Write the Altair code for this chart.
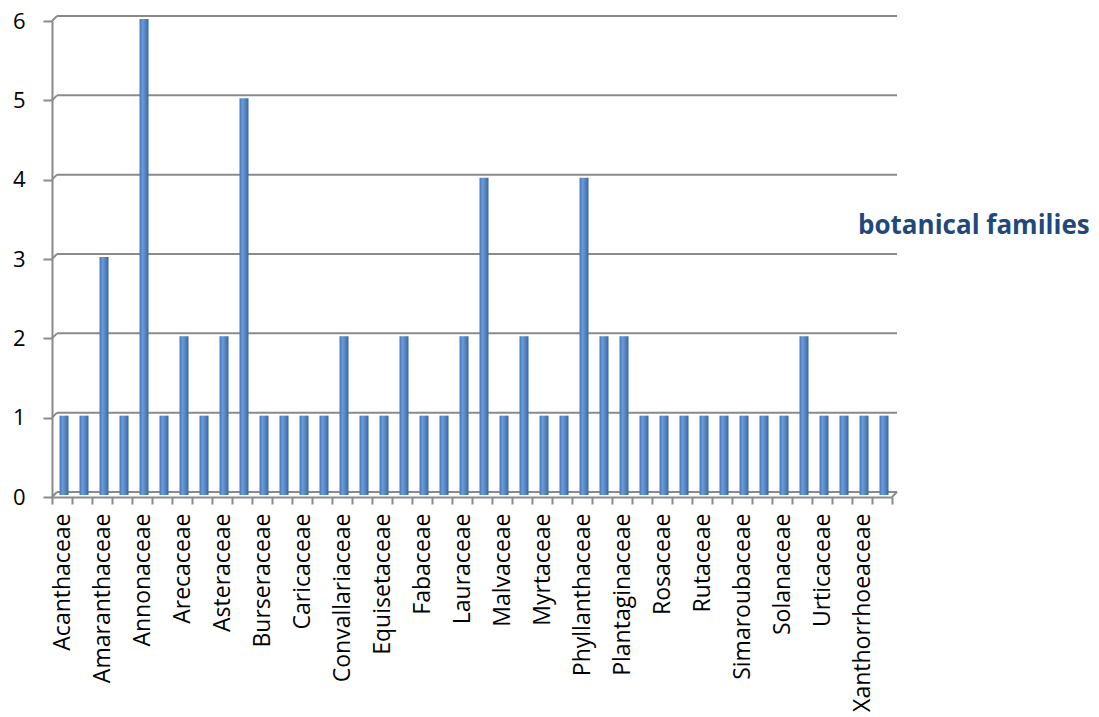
import json
import altair as alt
import pandas as pd

# Botanical family counts, in alphabetical order
families = [
    "Acanthaceae", "Agavaceae", "Amaranthaceae", "Anacardiaceae", "Annonaceae",
    "Apocynaceae", "Arecaceae", "Aristolochiaceae", "Asteraceae", "Bignoniaceae",
    "Burseraceae", "Cactaceae", "Caricaceae", "Commelinaceae", "Convallariaceae",
    "Cucurbitaceae", "Equisetaceae", "Euphorbiaceae", "Fabaceae", "Lamiaceae",
    "Lauraceae", "Loranthaceae", "Malvaceae", "Moraceae", "Myrtaceae",
    "Passifloraceae", "Phyllanthaceae", "Piperaceae", "Plantaginaceae", "Poaceae",
    "Rosaceae", "Rubiaceae", "Rutaceae", "Sapindaceae", "Simaroubaceae",
    "Smilacaceae", "Solanaceae", "Sterculiaceae", "Urticaceae", "Verbenaceae",
    "Xanthorrhoeaceae", "Zingiberaceae",
]
counts = [
    1, 1, 3, 1, 6, 1, 2, 1, 2, 5,
    1, 1, 1, 1, 2, 1, 1, 2, 1, 1,
    2, 4, 1, 2, 1, 1, 4, 2, 2, 1,
    1, 1, 1, 1, 1, 1, 1, 2, 1, 1,
    1, 1,
]
# Every other family gets a visible axis label
labelled = families[::2]
y_ticks = [0, 1, 2, 3, 4, 5, 6]
series_name = "botanical families"

W, H = 840, 476
DEPTH = 5
GRAY = "#8a8a8a"
FONT = "Open Sans"

df = pd.DataFrame({"family": families, "count": counts})
grid_df = pd.DataFrame({"v": y_ticks})
title_df = pd.DataFrame({"t": [series_name]})

x_enc = alt.X(
    "family:N",
    sort=families,
    scale=alt.Scale(domain=families, paddingInner=0, paddingOuter=0),
    axis=alt.Axis(
        title=None,
        labelAngle=270,
        labelFontSize=23,
        labelFont=FONT,
        labelColor="#000000",
        labelPadding=9,
        labelLimit=0,
        labelExpr=f"indexof({json.dumps(labelled)}, datum.value) < 0 ? '' : datum.label",
        tickBand="extent",
        tickSize=7,
        tickColor=GRAY,
        tickWidth=2,
        domainColor=GRAY,
        domainWidth=2,
        labelOverlap=False,
        grid=False,
    ),
)
y_scale = alt.Scale(domain=[0, 6], nice=False)
y_axis = alt.Axis(
    title=None,
    values=y_ticks,
    format="d",
    labelFontSize=22,
    labelFont=FONT,
    labelColor="#000000",
    labelPadding=18,
    tickSize=9,
    tickColor=GRAY,
    tickWidth=2,
    domainColor=GRAY,
    domainWidth=2,
    grid=False,
)

# Back-wall gridlines, shifted up and right for a depth effect
back_grid = alt.Chart(grid_df).mark_rule(
    color=GRAY, strokeWidth=2, yOffset=-DEPTH
).encode(
    x=alt.value(DEPTH),
    x2=alt.value(W + DEPTH),
    y=alt.Y("v:Q", scale=y_scale, axis=y_axis),
)

# Short diagonals joining the front axis to the back wall
connectors = alt.Chart(grid_df).mark_rule(
    color=GRAY, strokeWidth=2, y2Offset=-DEPTH
).encode(
    x=alt.value(0),
    x2=alt.value(DEPTH),
    y=alt.Y("v:Q", scale=y_scale),
    y2="v:Q",
)

# Right edge of the floor
floor_edge = alt.Chart(grid_df[grid_df.v == 0]).mark_rule(
    color=GRAY, strokeWidth=2, y2Offset=-DEPTH
).encode(
    x=alt.value(W),
    x2=alt.value(W + DEPTH),
    y=alt.Y("v:Q", scale=y_scale),
    y2="v:Q",
)

bar_fill = alt.LinearGradient(
    gradient="linear",
    x1=0, x2=1, y1=0, y2=0,
    stops=[
        alt.GradientStop(color="#4677b8", offset=0),
        alt.GradientStop(color="#6a9ad8", offset=0.35),
        alt.GradientStop(color="#4f81bd", offset=0.7),
        alt.GradientStop(color="#36649f", offset=1),
    ],
)

bars = alt.Chart(df).mark_bar(
    size=9, color=bar_fill, xOffset=2, yOffset=-2
).encode(
    x=x_enc,
    y=alt.Y("count:Q", scale=y_scale),
)

series_label = alt.Chart(title_df).mark_text(
    font=FONT,
    fontSize=26,
    fontWeight="bold",
    color="#1f497d",
    align="left",
    baseline="middle",
).encode(
    x=alt.value(806),
    y=alt.value(205),
    text="t:N",
)

chart = alt.layer(back_grid, connectors, floor_edge, bars, series_label).properties(
    width=W,
    height=H,
    autosize=alt.AutoSizeParams(type="none"),
    padding={"left": 52, "top": 21, "right": 207, "bottom": 220},
).configure(background="white").configure_view(stroke=None, strokeWidth=0)

chart.save("out.html", embed_options={"renderer": "svg", "actions": False})
